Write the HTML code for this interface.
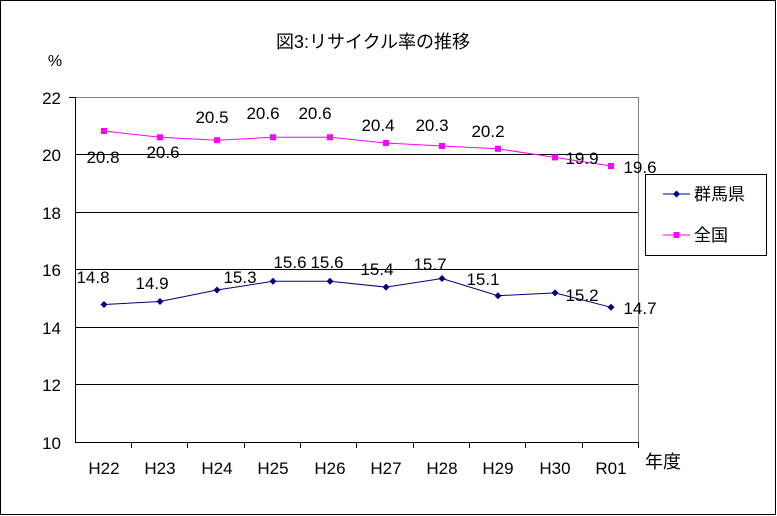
<!DOCTYPE html>
<html><head><meta charset="utf-8"><style>
html,body{margin:0;padding:0;background:#fff}
svg{display:block}
text{font-family:"Liberation Sans","Noto Sans CJK JP",sans-serif;fill:#000}
</style></head><body>
<svg width="777" height="516" viewBox="0 0 777 516">
<rect x="0.5" y="0.5" width="775" height="514" fill="#fff" stroke="#000"/>
<text x="373" y="48" font-size="18" text-anchor="middle">図3:リサイクル率の推移</text>
<text x="55" y="66" font-size="16" text-anchor="middle">%</text>
<g stroke="#000" stroke-width="1">
<line x1="75" y1="154.5" x2="639" y2="154.5"/>
<line x1="75" y1="212.5" x2="639" y2="212.5"/>
<line x1="75" y1="269.5" x2="639" y2="269.5"/>
<line x1="75" y1="327.5" x2="639" y2="327.5"/>
<line x1="75" y1="384.5" x2="639" y2="384.5"/>
</g>
<polyline points="75,97.5 638.5,97.5 638.5,442" fill="none" stroke="#808080"/>
<polyline points="75.5,97 75.5,442.5 639,442.5" fill="none" stroke="#000"/>
<g stroke="#000">
<line x1="131.5" y1="442" x2="131.5" y2="448"/><line x1="187.5" y1="442" x2="187.5" y2="448"/>
<line x1="244.5" y1="442" x2="244.5" y2="448"/><line x1="300.5" y1="442" x2="300.5" y2="448"/>
<line x1="356.5" y1="442" x2="356.5" y2="448"/><line x1="413.5" y1="442" x2="413.5" y2="448"/>
<line x1="469.5" y1="442" x2="469.5" y2="448"/><line x1="525.5" y1="442" x2="525.5" y2="448"/>
<line x1="582.5" y1="442" x2="582.5" y2="448"/><line x1="638.5" y1="442" x2="638.5" y2="448"/>
<line x1="69" y1="97.5" x2="75" y2="97.5"/>
</g>
<g font-size="17" text-anchor="end">
<text x="61" y="104">22</text><text x="61" y="161">20</text><text x="61" y="219">18</text>
<text x="61" y="276">16</text><text x="61" y="334">14</text><text x="61" y="391">12</text><text x="61" y="449">10</text>
</g>
<g font-size="17" text-anchor="middle">
<text x="104" y="474">H22</text><text x="160" y="474">H23</text><text x="217" y="474">H24</text>
<text x="273" y="474">H25</text><text x="330" y="474">H26</text><text x="386" y="474">H27</text>
<text x="442" y="474">H28</text><text x="498" y="474">H29</text><text x="555" y="474">H30</text>
<text x="611" y="474">R01</text>
</g>
<text x="663" y="468" font-size="18" text-anchor="middle">年度</text>
<polyline fill="none" stroke="#ff00ff" points="104,131 160,137.3 217,140.2 273,137.3 330,137.3 386,143 442,146 498,148.8 555,157.4 611,166"/>
<g fill="#ff00ff">
<rect x="101" y="128" width="6" height="6"/><rect x="157" y="134.3" width="6" height="6"/><rect x="214" y="137.2" width="6" height="6"/>
<rect x="270" y="134.3" width="6" height="6"/><rect x="327" y="134.3" width="6" height="6"/><rect x="383" y="140" width="6" height="6"/>
<rect x="439" y="143" width="6" height="6"/><rect x="495" y="145.8" width="6" height="6"/><rect x="552" y="154.4" width="6" height="6"/>
<rect x="608" y="163" width="6" height="6"/>
</g>
<polyline fill="none" stroke="#000080" points="104,304.5 160,301.5 217,290 273,281.3 330,281.3 386,287.1 442,278.5 498,295.7 555,292.9 611,307.3"/>
<g fill="#000080">
<path d="M104,301 l3.5,3.5 -3.5,3.5 -3.5,-3.5z"/><path d="M160,298 l3.5,3.5 -3.5,3.5 -3.5,-3.5z"/><path d="M217,286.5 l3.5,3.5 -3.5,3.5 -3.5,-3.5z"/>
<path d="M273,277.8 l3.5,3.5 -3.5,3.5 -3.5,-3.5z"/><path d="M330,277.8 l3.5,3.5 -3.5,3.5 -3.5,-3.5z"/><path d="M386,283.6 l3.5,3.5 -3.5,3.5 -3.5,-3.5z"/>
<path d="M442,275 l3.5,3.5 -3.5,3.5 -3.5,-3.5z"/><path d="M498,292.2 l3.5,3.5 -3.5,3.5 -3.5,-3.5z"/><path d="M555,289.4 l3.5,3.5 -3.5,3.5 -3.5,-3.5z"/>
<path d="M611,303.8 l3.5,3.5 -3.5,3.5 -3.5,-3.5z"/>
</g>
<g font-size="17" text-anchor="middle">
<text x="103" y="163">20.8</text><text x="163" y="158">20.6</text><text x="212" y="123">20.5</text>
<text x="263" y="119">20.6</text><text x="315" y="119">20.6</text><text x="378" y="131">20.4</text>
<text x="432" y="131">20.3</text><text x="488" y="137">20.2</text><text x="582" y="164">19.9</text>
<text x="640" y="173">19.6</text>
<text x="93" y="283">14.8</text><text x="152" y="289">14.9</text><text x="240" y="283">15.3</text>
<text x="290" y="268">15.6</text><text x="327" y="268">15.6</text><text x="377" y="275">15.4</text>
<text x="430" y="270">15.7</text><text x="483" y="285">15.1</text><text x="582" y="301">15.2</text>
<text x="640" y="314">14.7</text>
</g>
<rect x="645.5" y="174.5" width="121" height="81" fill="#fff" stroke="#000"/>
<line x1="663" y1="194" x2="690" y2="194" stroke="#000080"/>
<path d="M676.5,190.5 l3.5,3.5 -3.5,3.5 -3.5,-3.5z" fill="#000080"/>
<text x="694" y="200" font-size="17">群馬県</text>
<line x1="663" y1="235" x2="690" y2="235" stroke="#ff00ff"/>
<rect x="673.5" y="232" width="6" height="6" fill="#ff00ff"/>
<text x="694" y="241" font-size="17">全国</text>
</svg>
</body></html>
